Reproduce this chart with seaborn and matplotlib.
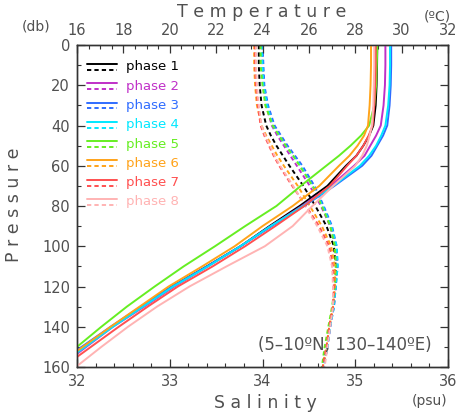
import numpy as np
import pandas as pd
import matplotlib
matplotlib.use("Agg")
import matplotlib.pyplot as plt
import seaborn as sns
from matplotlib.ticker import MultipleLocator

# pressure levels (db)
pressure = [0, 10, 20, 30, 40, 45, 50, 55, 60, 70, 80, 90, 100, 110, 120, 130, 140, 150, 160]

phases = ["phase 1", "phase 2", "phase 3", "phase 4",
          "phase 5", "phase 6", "phase 7", "phase 8"]
colors = ["#000000", "#c030c8", "#2f6cff", "#00e8ff",
          "#66ee22", "#ffa31a", "#ff5050", "#ffb3b3"]

# temperature profiles (degC)
temp_p1 = [28.95, 28.94, 28.92, 28.88, 28.78, 28.60, 28.35, 28.05, 27.60, 26.80, 25.60, 24.30, 23.05, 21.60, 20.10, 18.80, 17.50, 16.30, 15.10]
temp_p2 = [29.30, 29.30, 29.28, 29.22, 29.10, 28.90, 28.65, 28.40, 27.95, 26.95, 25.70, 24.35, 23.05, 21.65, 20.20, 18.90, 17.55, 16.40, 15.25]
temp_p3 = [29.55, 29.55, 29.53, 29.48, 29.38, 29.20, 28.95, 28.70, 28.30, 27.10, 25.80, 24.40, 23.05, 21.60, 20.10, 18.75, 17.45, 16.20, 15.00]
temp_p4 = [29.50, 29.50, 29.48, 29.42, 29.30, 29.12, 28.90, 28.60, 28.20, 27.05, 25.75, 24.35, 23.05, 21.65, 20.15, 18.85, 17.55, 16.35, 15.15]
temp_p5 = [28.95, 28.93, 28.90, 28.82, 28.60, 28.25, 27.80, 27.30, 26.75, 25.65, 24.60, 23.25, 21.95, 20.60, 19.35, 18.15, 17.05, 16.00, 14.95]
temp_p6 = [28.68, 28.68, 28.66, 28.62, 28.55, 28.38, 28.10, 27.75, 27.30, 26.45, 25.30, 24.00, 22.80, 21.40, 19.95, 18.70, 17.45, 16.25, 15.05]
temp_p7 = [28.88, 28.88, 28.86, 28.82, 28.75, 28.58, 28.35, 28.05, 27.65, 26.90, 25.80, 24.55, 23.25, 21.85, 20.35, 19.05, 17.80, 16.60, 15.40]
temp_p8 = [28.82, 28.82, 28.80, 28.78, 28.72, 28.62, 28.50, 28.30, 28.00, 27.05, 26.15, 25.30, 24.10, 22.45, 20.85, 19.45, 18.20, 17.05, 15.95]

# salinity profiles (psu)
sal_p1 = [33.96, 33.96, 33.97, 33.99, 34.04, 34.09, 34.15, 34.22, 34.29, 34.44, 34.57, 34.69, 34.77, 34.79, 34.78, 34.76, 34.72, 34.69, 34.65]
sal_p2 = [34.00, 34.00, 34.01, 34.04, 34.10, 34.16, 34.23, 34.30, 34.37, 34.51, 34.63, 34.73, 34.79, 34.80, 34.79, 34.77, 34.73, 34.70, 34.66]
sal_p3 = [34.00, 34.01, 34.02, 34.06, 34.13, 34.20, 34.27, 34.35, 34.43, 34.56, 34.66, 34.75, 34.80, 34.81, 34.79, 34.77, 34.73, 34.70, 34.66]
sal_p4 = [33.99, 34.00, 34.01, 34.05, 34.11, 34.18, 34.25, 34.33, 34.41, 34.54, 34.65, 34.74, 34.80, 34.81, 34.79, 34.77, 34.73, 34.70, 34.66]
sal_p5 = [33.98, 33.98, 34.00, 34.03, 34.11, 34.18, 34.25, 34.33, 34.40, 34.54, 34.64, 34.73, 34.78, 34.79, 34.78, 34.75, 34.71, 34.67, 34.64]
sal_p6 = [33.91, 33.91, 33.92, 33.94, 33.99, 34.04, 34.10, 34.16, 34.23, 34.38, 34.51, 34.64, 34.74, 34.78, 34.78, 34.76, 34.72, 34.69, 34.65]
sal_p7 = [33.92, 33.92, 33.93, 33.95, 33.98, 34.02, 34.07, 34.12, 34.18, 34.32, 34.47, 34.61, 34.72, 34.76, 34.77, 34.76, 34.72, 34.69, 34.65]
sal_p8 = [33.93, 33.93, 33.94, 33.96, 33.99, 34.03, 34.08, 34.13, 34.19, 34.33, 34.46, 34.59, 34.70, 34.75, 34.76, 34.76, 34.73, 34.70, 34.67]

temps = [temp_p1, temp_p2, temp_p3, temp_p4, temp_p5, temp_p6, temp_p7, temp_p8]
sals = [sal_p1, sal_p2, sal_p3, sal_p4, sal_p5, sal_p6, sal_p7, sal_p8]

frames = []
for name, t, s in zip(phases, temps, sals):
    frames.append(pd.DataFrame({"phase": name, "pressure": pressure,
                                "temperature": t, "salinity": s}))
df = pd.concat(frames, ignore_index=True)

sns.set_style("white")
plt.rcParams["font.family"] = ["DejaVu Sans"]
txt = "#505050"
palette = dict(zip(phases, colors))

fig = plt.figure(figsize=(4.57, 4.19), dpi=100)
ax = fig.add_axes([0.1685, 0.1241, 0.8118, 0.7685])
ax_t = ax.twiny()

# salinity: dashed, bottom axis
sns.lineplot(data=df, x="salinity", y="pressure", hue="phase", palette=palette,
             orient="y", estimator=None, legend=False, ax=ax,
             linewidth=1.4, linestyle=(0, (2.2, 1.6)))
# temperature: solid, top axis
sns.lineplot(data=df, x="temperature", y="pressure", hue="phase", palette=palette,
             orient="y", estimator=None, legend=False, ax=ax_t, linewidth=1.4)

ax.set_xlim(32, 36)
ax.set_ylim(160, 0)
ax_t.set_xlim(16, 32)
ax_t.set_ylim(160, 0)

ax.xaxis.set_major_locator(MultipleLocator(1))
ax.xaxis.set_minor_locator(MultipleLocator(0.2))
ax.yaxis.set_major_locator(MultipleLocator(20))
ax.yaxis.set_minor_locator(MultipleLocator(10))
ax_t.xaxis.set_major_locator(MultipleLocator(2))
ax_t.xaxis.set_minor_locator(MultipleLocator(0.5))

ax.tick_params(axis="both", which="both", direction="in", colors="#333333",
               labelcolor=txt, labelsize=10.5, pad=5)
ax.tick_params(axis="y", which="both", right=True, left=True)
ax.tick_params(which="major", length=6, width=0.9)
ax.tick_params(which="minor", length=3, width=0.8)
ax_t.tick_params(axis="x", which="both", direction="in", colors="#333333",
                 labelcolor=txt, labelsize=10.5, pad=5)
ax_t.tick_params(which="major", length=6, width=0.9)
ax_t.tick_params(which="minor", length=3, width=0.8)
ax.set_xlabel("")
ax.set_ylabel("")
ax_t.set_xlabel("")
ax_t.set_ylabel("")
for a in (ax, ax_t):
    for sp in a.spines.values():
        sp.set_color("#333333")
        sp.set_linewidth(1.0)
        sp.set_visible(True)

# legend: solid + dashed pair for each phase
for i, (name, c) in enumerate(zip(phases, colors)):
    y0 = 0.941 - i * 0.0599
    ax.plot([0.028, 0.107], [y0, y0], color=c, lw=1.4, transform=ax.transAxes)
    ax.plot([0.028, 0.107], [y0 - 0.018, y0 - 0.018], color=c, lw=1.4,
            linestyle=(0, (2.2, 1.6)), transform=ax.transAxes)
    ax.text(0.133, y0 - 0.009, name, color=c, fontsize=9.5, va="center",
            ha="left", transform=ax.transAxes)

ax.text(0.955, 0.068, "(5\u201310\u00baN, 130\u2013140\u00baE)", color=txt,
        fontsize=12, ha="right", va="center", transform=ax.transAxes)

fig.text(262 / 457, 1 - 12 / 419, "T e m p e r a t u r e", color=txt,
         fontsize=12.5, ha="center", va="center")
fig.text(437 / 457, 1 - 16 / 419, "(\u00baC)", color=txt, fontsize=10,
         ha="center", va="center")
fig.text(36 / 457, 1 - 26 / 419, "(db)", color=txt, fontsize=10,
         ha="center", va="center")
fig.text(14 / 457, 1 - 205 / 419, "P r e s s u r e", color=txt,
         fontsize=12.5, ha="center", va="center", rotation=90)
fig.text(265 / 457, 1 - 403 / 419, "S a l i n i t y", color=txt,
         fontsize=12.5, ha="center", va="center")
fig.text(430 / 457, 1 - 401 / 419, "(psu)", color=txt, fontsize=10,
         ha="center", va="center")

fig.savefig("out.png", dpi=100)
